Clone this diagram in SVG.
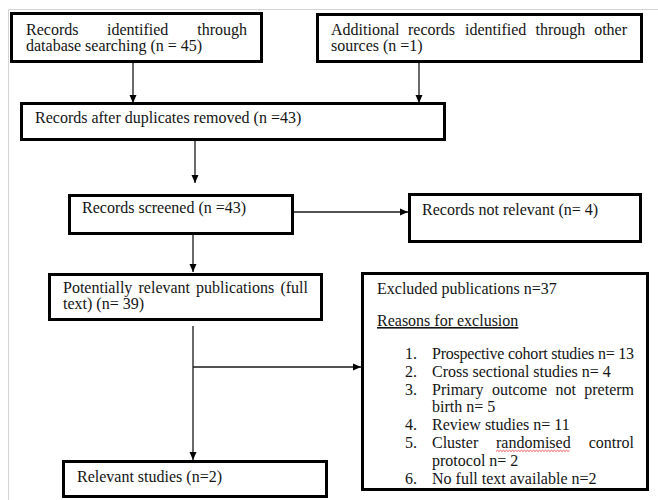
<svg xmlns="http://www.w3.org/2000/svg" width="658" height="500" viewBox="0 0 658 500">
<style>
.box{fill:#fff;stroke:#000;stroke-width:3}
.t{font-family:"Liberation Serif","Times New Roman",serif;font-size:16px;fill:#141414}
.c{fill:none;stroke:#1a1a1a;stroke-width:1.3}
.frame{stroke:#d4d4d4;stroke-width:1;fill:none}
</style>
<defs>
<marker id="ah" markerUnits="userSpaceOnUse" markerWidth="8" markerHeight="8" refX="8" refY="4" orient="auto">
<path d="M0,0.5 L8,4 L0,7.5 z" fill="#000"/>
</marker>
</defs>
<rect width="658" height="500" fill="#fff"/>
<path class="frame" d="M8.5,500 V9.5 H658"/>
<g id="connectors">
<path class="c" d="M133,63 V103" marker-end="url(#ah)"/>
<path class="c" d="M419,63 V103" marker-end="url(#ah)"/>
<path class="c" d="M195,141 V183" marker-end="url(#ah)"/>
<path class="c" d="M294,212 H408" marker-end="url(#ah)"/>
<path class="c" d="M193,235 V272" marker-end="url(#ah)"/>
<path class="c" d="M193,326 V460" marker-end="url(#ah)"/>
<path class="c" d="M193,367 H361" marker-end="url(#ah)"/>
</g>
<g id="n1">
<rect class="box" x="11.5" y="13.5" width="250" height="48"/>
<text class="t" y="35"><tspan x="26">Records</tspan><tspan x="107">identified</tspan><tspan x="247" text-anchor="end">through</tspan></text>
<text class="t" x="26" y="51">database searching (n = 45)</text>
</g>
<g id="n2">
<rect class="box" x="317.5" y="14.5" width="324" height="47"/>
<text class="t" y="35"><tspan x="331">Additional</tspan><tspan x="408">records</tspan><tspan x="465">identified</tspan><tspan x="535.5">through</tspan><tspan x="627" text-anchor="end">other</tspan></text>
<text class="t" x="331" y="51">sources (n =1)</text>
</g>
<g id="n3">
<rect class="box" x="21.5" y="103.5" width="423" height="36"/>
<text class="t" x="35" y="123">Records after duplicates removed (n =43)</text>
</g>
<g id="n4">
<rect class="box" x="69.5" y="195.5" width="223" height="38"/>
<text class="t" x="82" y="213">Records screened (n =43)</text>
</g>
<g id="n5">
<rect class="box" x="409.5" y="194.5" width="231" height="47"/>
<text class="t" x="422" y="215">Records not relevant (n= 4)</text>
</g>
<g id="n6">
<rect class="box" x="49.5" y="274.5" width="272" height="45"/>
<text class="t" y="293"><tspan x="63">Potentially</tspan><tspan x="138.5">relevant</tspan><tspan x="196">publications</tspan><tspan x="308" text-anchor="end">(full</tspan></text>
<text class="t" x="63" y="309">text) (n= 39)</text>
</g>
<g id="n7">
<rect class="box" x="362.5" y="273.5" width="285" height="216"/>
<text class="t" x="377" y="294">Excluded publications n=37</text>
<text class="t" x="377" y="326" text-decoration="underline">Reasons for exclusion</text>
<text class="t" x="405" y="359">1.</text>
<text class="t" x="432" y="359" textLength="202" lengthAdjust="spacing">Prospective cohort studies n= 13</text>
<text class="t" x="405" y="376.8">2.</text>
<text class="t" x="432" y="376.8">Cross sectional studies n= 4</text>
<text class="t" x="405" y="394.6">3.</text>
<text class="t" y="394.6"><tspan x="432">Primary</tspan><tspan x="492">outcome</tspan><tspan x="555.5">not</tspan><tspan x="634" text-anchor="end">preterm</tspan></text>
<text class="t" x="432" y="412.4">birth n= 5</text>
<text class="t" x="405" y="430.2">4.</text>
<text class="t" x="432" y="430.2">Review studies n= 11</text>
<text class="t" x="405" y="448">5.</text>
<text class="t" y="448"><tspan x="432">Cluster</tspan><tspan x="496">randomised</tspan><tspan x="634" text-anchor="end">control</tspan></text>
<path d="M496,451.5 l1.5,-1.2 l1.5,1.2 l1.5,-1.2 l1.5,1.2 l1.5,-1.2 l1.5,1.2 l1.5,-1.2 l1.5,1.2 l1.5,-1.2 l1.5,1.2 l1.5,-1.2 l1.5,1.2 l1.5,-1.2 l1.5,1.2 l1.5,-1.2 l1.5,1.2 l1.5,-1.2 l1.5,1.2 l1.5,-1.2 l1.5,1.2 l1.5,-1.2 l1.5,1.2 l1.5,-1.2 l1.5,1.2 l1.5,-1.2 l1.5,1.2 l1.5,-1.2 l1.5,1.2 l1.5,-1.2 l1.5,1.2 l1.5,-1.2 l1.5,1.2 l1.5,-1.2 l1.5,1.2 l1.5,-1.2 l1.5,1.2 l1.5,-1.2 l1.5,1.2 l1.5,-1.2 l1.5,1.2 l1.5,-1.2 l1.5,1.2 l1.5,-1.2 l1.5,1.2 l1.5,-1.2 l1.5,1.2 l1.5,-1.2 l1.5,1.2 l1.5,-1.2" fill="none" stroke="#e03030" stroke-width="0.8"/>
<text class="t" x="432" y="465.8">protocol n= 2</text>
<text class="t" x="405" y="483.6">6.</text>
<text class="t" x="432" y="483.6">No full text available n=2</text>
</g>
<g id="n8">
<rect class="box" x="63.5" y="461.5" width="263" height="35"/>
<text class="t" x="77" y="482">Relevant studies (n=2)</text>
</g>
</svg>
